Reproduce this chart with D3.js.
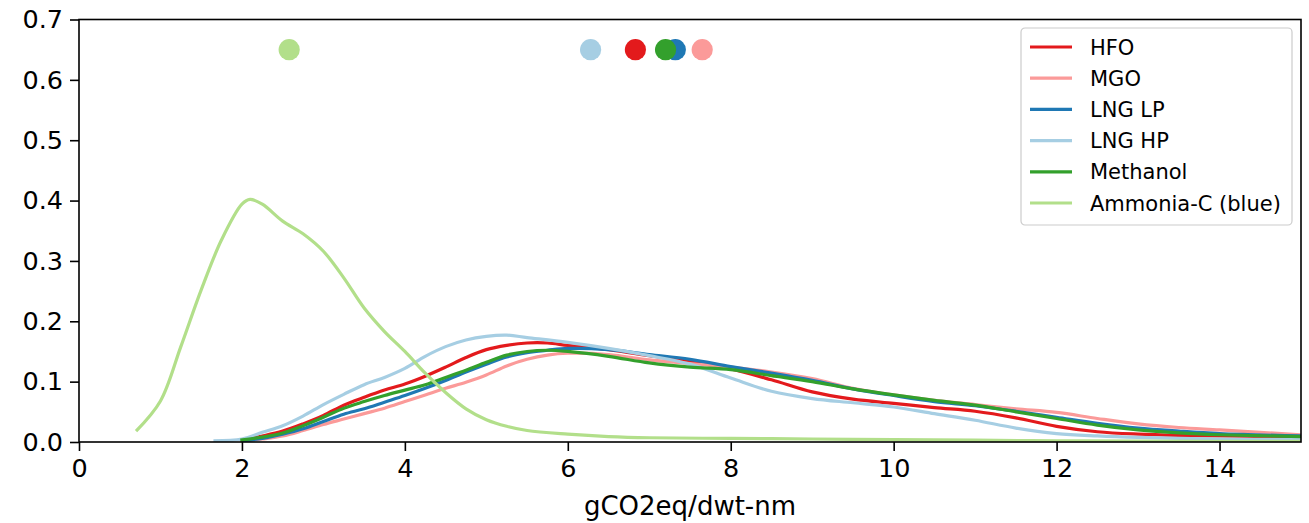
<!DOCTYPE html>
<html>
<head>
<meta charset="utf-8">
<script src="https://cdn.jsdelivr.net/npm/d3@7"></script>
<style>
  html, body { margin: 0; padding: 0; background: #fff; }
  svg { display: block; font-family: "DejaVu Sans", sans-serif; }
</style>
</head>
<body>
<svg id="chart" width="1309" height="523"></svg>
<script>
// Fuel names, in legend order
const fuels = ["HFO", "MGO", "LNG LP", "LNG HP", "Methanol", "Ammonia-C (blue)"];
const colors = ["#e31a1c", "#fb9a99", "#1f78b4", "#a6cee3", "#33a02c", "#b2df8a"];

// Density curves, as [gCO2eq/dwt-nm, density] pairs
const hfo = [[1.98,0.003],[2.25,0.010],[2.5,0.018],[2.75,0.030],[3,0.044],[3.25,0.061],[3.5,0.074],[3.75,0.086],[4,0.096],[4.25,0.109],[4.5,0.124],[4.75,0.140],[5,0.153],[5.25,0.160],[5.5,0.164],[5.75,0.164],[6,0.160],[6.5,0.153],[7,0.143],[7.5,0.133],[8,0.121],[8.5,0.103],[9,0.083],[9.5,0.071],[10,0.064],[10.5,0.057],[11,0.051],[11.5,0.040],[12,0.026],[12.5,0.017],[13,0.013],[13.5,0.011],[14,0.010],[15,0.008]];
const mgo = [[2.05,0.002],[2.25,0.005],[2.5,0.010],[2.75,0.019],[3,0.029],[3.25,0.038],[3.5,0.047],[3.75,0.056],[4,0.067],[4.25,0.078],[4.5,0.089],[4.75,0.099],[5,0.111],[5.25,0.126],[5.5,0.137],[5.75,0.144],[6,0.147],[6.5,0.145],[7,0.136],[7.5,0.130],[8,0.124],[8.5,0.116],[9,0.105],[9.5,0.089],[10,0.078],[10.5,0.069],[11,0.062],[11.5,0.055],[12,0.049],[12.5,0.039],[13,0.030],[13.5,0.024],[14,0.020],[15,0.012]];
const lngLp = [[2,0.002],[2.25,0.006],[2.5,0.013],[2.75,0.022],[3,0.034],[3.25,0.046],[3.5,0.055],[3.75,0.066],[4,0.077],[4.25,0.089],[4.5,0.102],[4.75,0.116],[5,0.129],[5.25,0.141],[5.5,0.148],[5.75,0.152],[6,0.155],[6.5,0.153],[7,0.145],[7.5,0.137],[8,0.125],[8.5,0.114],[9,0.102],[9.5,0.088],[10,0.077],[10.5,0.067],[11,0.060],[11.5,0.051],[12,0.041],[12.5,0.031],[13,0.023],[13.5,0.018],[14,0.014],[15,0.010]];
const lngHp = [[1.65,0.002],[2,0.005],[2.25,0.016],[2.5,0.027],[2.75,0.043],[3,0.062],[3.25,0.079],[3.5,0.095],[3.75,0.107],[4,0.122],[4.25,0.142],[4.5,0.158],[4.75,0.169],[5,0.175],[5.25,0.177],[5.5,0.173],[6,0.165],[6.5,0.155],[7,0.143],[7.5,0.129],[8,0.106],[8.5,0.084],[9,0.072],[9.5,0.065],[10,0.058],[10.5,0.047],[11,0.036],[11.5,0.023],[12,0.014],[12.5,0.010],[13,0.0075],[14,0.0048],[15,0.004]];
const methanol = [[1.98,0.003],[2.25,0.008],[2.5,0.015],[2.75,0.027],[3,0.041],[3.25,0.056],[3.5,0.067],[3.75,0.077],[4,0.086],[4.25,0.095],[4.5,0.107],[4.75,0.119],[5,0.132],[5.25,0.144],[5.5,0.150],[5.75,0.152],[6,0.150],[6.5,0.142],[7,0.131],[7.5,0.124],[8,0.120],[8.5,0.110],[9,0.100],[9.5,0.088],[10,0.078],[10.5,0.069],[11,0.061],[11.5,0.050],[12,0.039],[12.5,0.028],[13,0.020],[13.5,0.015],[14,0.012],[15,0.009]];
const ammonia = [[0.7,0.018],[1,0.068],[1.25,0.158],[1.5,0.252],[1.75,0.335],[2,0.394],[2.1,0.402],[2.25,0.394],[2.5,0.366],[2.75,0.345],[3,0.316],[3.25,0.272],[3.5,0.222],[3.75,0.183],[4,0.150],[4.25,0.114],[4.5,0.082],[4.75,0.055],[5,0.037],[5.25,0.026],[5.5,0.019],[6,0.013],[6.5,0.009],[7,0.007],[8,0.006],[9,0.005],[10,0.004],[11,0.003],[12,0.002],[13,0.0015],[15,0.001]];
const curves = [hfo, mgo, lngLp, lngHp, methanol, ammonia];

// Mean of each fuel, marked as a dot along the top
const means = [6.83, 7.65, 7.32, 6.28, 7.20, 2.58];
const meanLevel = 0.65;

// Axis ticks
const xTicks = [0, 2, 4, 6, 8, 10, 12, 14];
const yTicks = [0, 0.1, 0.2, 0.3, 0.4, 0.5, 0.6, 0.7];
const xLabel = "gCO2eq/dwt-nm";

const svg = d3.select("#chart");
const plotLeft = 79, plotRight = 1301, plotTop = 19.5, plotBottom = 442;

const x = d3.scaleLinear().domain([0, 15]).range([plotLeft, plotRight]);
const y = d3.scaleLinear().domain([0, 0.7]).range([plotBottom, plotTop]);

svg.append("defs").append("clipPath").attr("id", "plot-clip")
  .append("rect").attr("x", plotLeft).attr("y", plotTop)
  .attr("width", plotRight - plotLeft).attr("height", plotBottom - plotTop);

const plot = svg.append("g").attr("clip-path", "url(#plot-clip)");

const line = d3.line()
  .x(d => x(d[0]))
  .y(d => y(d[1]))
  .curve(d3.curveCatmullRom.alpha(0.5));

curves.forEach((c, i) => {
  plot.append("path")
    .attr("d", line(c))
    .attr("fill", "none")
    .attr("stroke", colors[i])
    .attr("stroke-width", 3.2)
    .attr("stroke-linejoin", "round");
});

means.forEach((m, i) => {
  plot.append("circle")
    .attr("cx", x(m))
    .attr("cy", y(meanLevel))
    .attr("r", 10.6)
    .attr("fill", colors[i]);
});

// Axes
const xAxis = d3.axisBottom(x).tickValues(xTicks).tickFormat(d3.format("d"))
  .tickSize(9).tickPadding(8);
const yAxis = d3.axisLeft(y).tickValues(yTicks).tickFormat(d3.format(".1f"))
  .tickSize(9).tickPadding(7);

const gx = svg.append("g").attr("transform", `translate(0,${plotBottom})`).call(xAxis);
const gy = svg.append("g").attr("transform", `translate(${plotLeft},0)`).call(yAxis);
[gx, gy].forEach(g => {
  g.select(".domain").remove();
  g.selectAll(".tick line").attr("stroke", "#000").attr("stroke-width", 1.6);
  g.selectAll(".tick text").attr("fill", "#000")
    .style("font-family", "'DejaVu Sans', sans-serif").style("font-size", "25.5px");
});

// Frame
svg.append("rect")
  .attr("x", plotLeft).attr("y", plotTop)
  .attr("width", plotRight - plotLeft).attr("height", plotBottom - plotTop)
  .attr("fill", "none").attr("stroke", "#000").attr("stroke-width", 1.6);

svg.append("text")
  .attr("x", (plotLeft + plotRight) / 2)
  .attr("y", 515)
  .attr("text-anchor", "middle")
  .style("font-size", "26px")
  .attr("fill", "#000")
  .text(xLabel);

// Legend
const lg = svg.append("g").attr("transform", "translate(1021,28)");
lg.append("rect")
  .attr("x", 0).attr("y", 0).attr("width", 271).attr("height", 197)
  .attr("rx", 4).attr("ry", 4)
  .attr("fill", "#fff").attr("fill-opacity", 0.8)
  .attr("stroke", "#cccccc").attr("stroke-width", 1.2);

fuels.forEach((f, i) => {
  const cy = 19 + i * 31.2;
  lg.append("line")
    .attr("x1", 9).attr("x2", 51).attr("y1", cy).attr("y2", cy)
    .attr("stroke", colors[i]).attr("stroke-width", 3.2);
  lg.append("text")
    .attr("x", 69).attr("y", cy)
    .attr("dy", "0.36em")
    .style("font-size", "21px")
    .attr("fill", "#000")
    .text(f);
});
</script>
</body>
</html>
